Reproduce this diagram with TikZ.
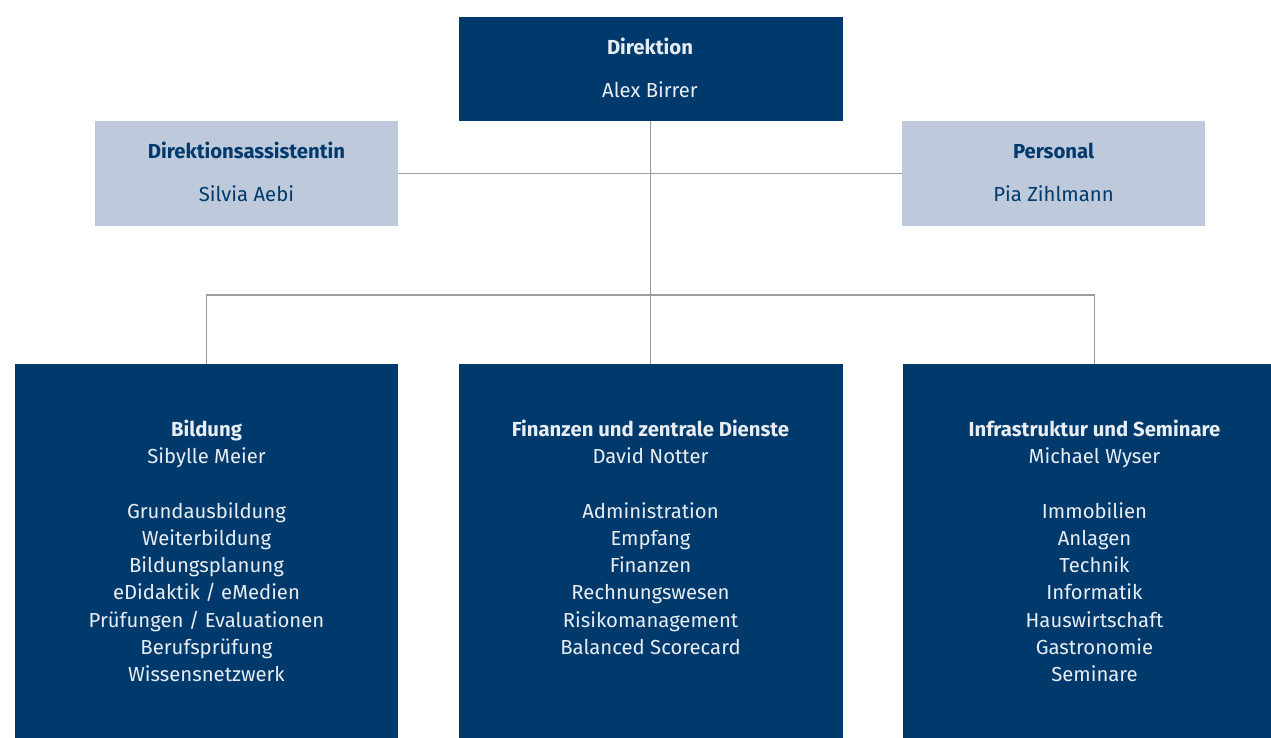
\documentclass[tikz,border=0pt]{standalone}
\usepackage{fontspec}
\setmainfont{Fira Sans}
\definecolor{navy}{HTML}{003A6C}
\definecolor{pale}{HTML}{BEC9DB}
\definecolor{ltext}{HTML}{E8EDF3}
\definecolor{conn}{HTML}{9C9C9C}
\begin{document}
\begin{tikzpicture}[x=1pt,y=-1pt,
  darkbox/.style={fill=navy,draw=none,anchor=north west,inner sep=0pt,outer sep=0pt},
  lightbox/.style={fill=pale,draw=none,anchor=north west,inner sep=0pt,outer sep=0pt},
  dtxt/.style={text=ltext,align=center,anchor=base,inner sep=0pt,font=\fontsize{20.3}{27.3}\selectfont},
  ltxt/.style={text=navy,align=center,anchor=base,inner sep=0pt,font=\fontsize{20.3}{27.3}\selectfont},
  conline/.style={draw=conn,line width=1.1pt}]
\useasboundingbox (0,0) rectangle (1271,738);
\clip (0,0) rectangle (1271,738);
% boxes
\node[darkbox,minimum width=384,minimum height=104.5] (dir) at (458.5,17) {};
\node[lightbox,minimum width=303,minimum height=104.5] (ass) at (95,121) {};
\node[lightbox,minimum width=303,minimum height=104.5] (pers) at (902,121) {};
\node[darkbox,minimum width=383,minimum height=420] (bild) at (15,364) {};
\node[darkbox,minimum width=384,minimum height=420] (fin) at (458.5,364) {};
\node[darkbox,minimum width=383,minimum height=420] (infra) at (903,364) {};
% connectors
\coordinate (bar) at (650.5,295);
\draw[conline] (dir.south) -- (fin.north);
\draw[conline] (ass.east) -- (pers.west);
\draw[conline] (bild.north) |- (bar) -| (infra.north);
% texts
\node[dtxt] (tdir1) at (650,54.3) {\bfseries Direktion};
\node[dtxt] (tdir2) at (650,97.3) {Alex Birrer};
\node[ltxt] (tass1) at (246.5,158.3) {\bfseries Direktionsassistentin};
\node[ltxt] (tass2) at (246.5,201) {Silvia Aebi};
\node[ltxt] (tper1) at (1053.5,158.3) {\bfseries Personal};
\node[ltxt] (tper2) at (1053.5,201) {Pia Zihlmann};
\node[dtxt] (tbild) at (206.5,681.8) {\textbf{Bildung}\\Sibylle Meier\\[27.3pt]Grundausbildung\\Weiterbildung\\Bildungsplanung\\eDidaktik / eMedien\\Prüfungen / Evaluationen\\Berufsprüfung\\Wissensnetzwerk};
\node[dtxt] (tfin) at (650.5,654.5) {\textbf{Finanzen und zentrale Dienste}\\David Notter\\[27.3pt]Administration\\Empfang\\Finanzen\\Rechnungswesen\\Risikomanagement\\Balanced Scorecard};
\node[dtxt] (tinfra) at (1094.5,681.8) {\textbf{Infrastruktur und Seminare}\\Michael Wyser\\[27.3pt]Immobilien\\Anlagen\\Technik\\Informatik\\Hauswirtschaft\\Gastronomie\\Seminare};
\end{tikzpicture}
\end{document}
